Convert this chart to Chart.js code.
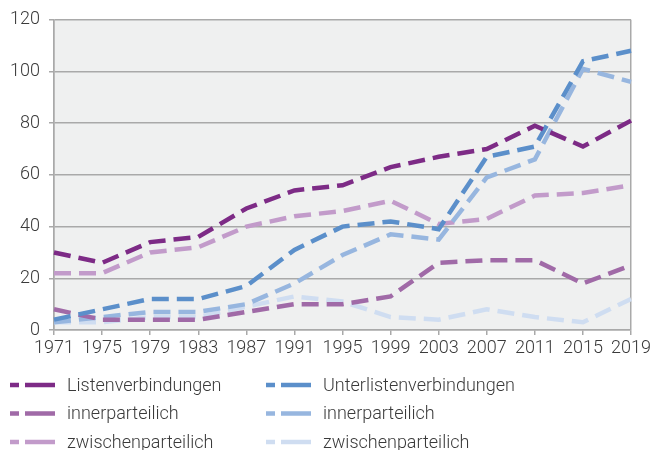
<!DOCTYPE html>
<html>
<head>
<meta charset="utf-8">
<script src="https://cdn.jsdelivr.net/npm/chart.js@4/dist/chart.umd.min.js"></script>
<style>
  html, body { margin: 0; padding: 0; background: #ffffff; }
  #wrap { width: 654px; height: 450px; position: relative; }
</style>
</head>
<body>
<div id="wrap"><canvas id="myChart"></canvas></div>
<script>
// years on the x axis
const years = ['1971', '1975', '1979', '1983', '1987', '1991', '1995', '1999', '2003', '2007', '2011', '2015', '2019'];

// purple family
const listen       = [30, 26, 34, 36, 47, 54, 56, 63, 67, 70, 79, 71, 81];
const innerListen  = [8, 4, 4, 4, 7, 10, 10, 13, 26, 27, 27, 18, 25];
const zwischenListen = [22, 22, 30, 32, 40, 44, 46, 50, 41, 43, 52, 53, 56];

// blue family
const unter        = [4, 8, 12, 12, 17, 31, 40, 42, 39, 67, 71, 104, 108];
const innerUnter   = [3, 5, 7, 7, 10, 18, 29, 37, 35, 59, 66, 101, 96];
const zwischenUnter = [3, 3, 5, 5, 9, 13, 11, 5, 4, 8, 5, 3, 12];

const yTicks = [0, 20, 40, 60, 80, 100, 120];

const labels = ['Listenverbindungen', 'Unterlistenverbindungen', 'innerparteilich', 'innerparteilich', 'zwischenparteilich', 'zwischenparteilich'];
const colors = ['#7d2b86', '#5b8fca', '#a06aa7', '#97b6df', '#c29bca', '#cfddf1'];

const gridGrey = '#a9a9a9';
const textGrey = '#3a3a3a';
const font = "Roboto, 'Noto Sans', sans-serif";

// grey plot background
const plotBg = {
    id: 'plotBg',
    beforeDraw(chart) {
        const a = chart.chartArea;
        const c = chart.ctx;
        c.save();
        c.fillStyle = '#eff0f0';
        c.fillRect(a.left, a.top, a.right - a.left, a.bottom - a.top);
        c.restore();
    }
};

// two column legend under the chart (column-wise: purple left, blue right)
const colLegend = {
    id: 'colLegend',
    afterDraw(chart) {
        const c = chart.ctx;
        const ds = chart.data.datasets;
        c.save();
        c.font = '300 18px ' + font;
        c.textBaseline = 'middle';
        ds.forEach((d, i) => {
            const col = i % 2;
            const row = Math.floor(i / 2);
            const x = 10 + col * 256;
            const y = 385 + row * 28.5;
            c.strokeStyle = d.borderColor;
            c.lineWidth = 4.5;
            c.setLineDash([]);
            c.beginPath();
            c.moveTo(x, y); c.lineTo(x + 9, y);
            c.moveTo(x + 15, y); c.lineTo(x + 45, y);
            c.stroke();
            c.fillStyle = textGrey;
            c.fillText(d.label, x + 57, y + 1);
        });
        c.restore();
    }
};

const series = [listen, unter, innerListen, innerUnter, zwischenListen, zwischenUnter];

const ctx = document.getElementById('myChart');

const myChart = new Chart(ctx, {
    type: 'line',
    data: {
        labels: years,
        datasets: series.map((s, i) => ({
            label: labels[i],
            data: s,
            borderColor: colors[i],
            backgroundColor: colors[i],
            borderWidth: 4.5,
            borderDash: [17, 8],
            pointRadius: 0,
            tension: 0,
            fill: false
        }))
    },
    options: {
        responsive: true,
        maintainAspectRatio: false,
        animation: false,
        layout: {
            padding: { left: 0, right: 18, top: 18, bottom: 90 }
        },
        scales: {
            x: {
                grid: {
                    color: c => (c.index === 0 || c.index === years.length - 1) ? gridGrey : 'transparent',
                    tickColor: gridGrey,
                    tickLength: 5,
                    lineWidth: 1.5
                },
                border: { color: gridGrey, width: 1.5 },
                ticks: {
                    color: textGrey,
                    font: { family: font, size: 18, weight: '300' },
                    padding: 3,
                    maxRotation: 0,
                    autoSkip: false
                },
                afterFit: s => { s.height = 30; }
            },
            y: {
                min: 0,
                max: 120,
                afterBuildTicks: s => { s.ticks = yTicks.map(v => ({ value: v })); },
                grid: {
                    color: gridGrey,
                    tickColor: gridGrey,
                    tickLength: 5,
                    lineWidth: 1.5
                },
                border: { color: gridGrey, width: 1.5 },
                ticks: {
                    color: textGrey,
                    font: { family: font, size: 18, weight: '300' },
                    padding: 9
                },
                afterFit: s => { s.width = 54; }
            }
        },
        plugins: {
            legend: { display: false },
            tooltip: { enabled: false }
        }
    },
    plugins: [plotBg, colLegend]
});
</script>
</body>
</html>
